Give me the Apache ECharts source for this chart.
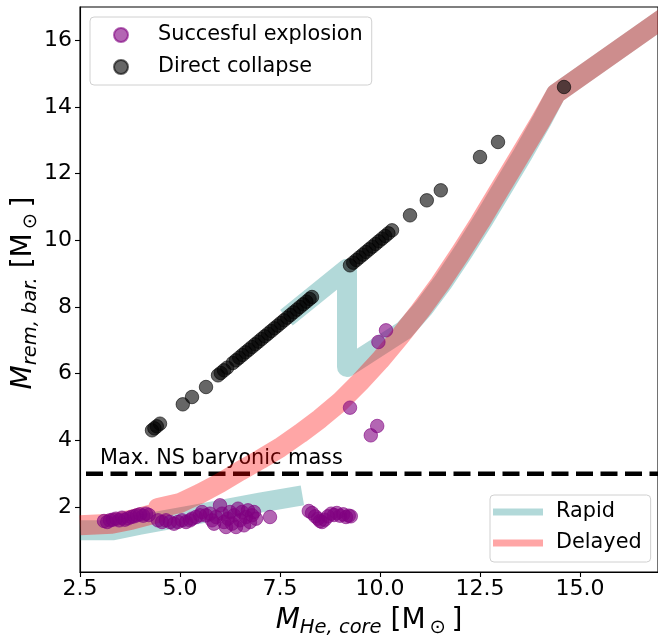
<!DOCTYPE html>
<html>
<head>
<meta charset="utf-8">
<script src="https://cdn.jsdelivr.net/npm/echarts@6/dist/echarts.min.js"></script>
<style>
  html, body { margin: 0; padding: 0; background: #fff; }
  #chart { width: 658px; height: 637px; }
</style>
</head>
<body>
<div id="chart"></div>
<script>
// remnant mass curves, [M_He, M_rem]
const rapidLow = [[2.5, 1.3], [3.3, 1.3], [4.0, 1.47], [5.0, 1.69], [6.0, 1.91], [7.0, 2.13], [8.06, 2.35]];
const rapidHigh = [[7.66, 7.68], [9.175, 9.15], [9.175, 6.2], [10.6, 7.3], [11.08, 7.95], [11.58, 8.75],
  [12.08, 9.65], [12.58, 10.6], [13.08, 11.6], [13.58, 12.6], [14.05, 13.6], [14.4, 14.4], [17.1, 16.68]];
const delayed = [[2.5, 1.45], [3.3, 1.5], [3.8, 1.62], [4.42, 1.82], [4.45, 1.97], [5.0, 2.12], [5.5, 2.4],
  [6.0, 2.72], [6.5, 3.08], [7.0, 3.42], [7.5, 3.78], [8.0, 4.2], [8.5, 4.65], [9.0, 5.15], [9.5, 5.75],
  [10.0, 6.4], [10.5, 7.12], [11.0, 7.88], [11.5, 8.7], [12.0, 9.6], [12.5, 10.55], [13.0, 11.55],
  [13.5, 12.55], [14.0, 13.55], [14.4, 14.4], [17.1, 16.68]];
const nsLimit = [[2.65, 3.0], [17.0, 3.0]];

const explosion = [
  [3.1, 1.58], [3.18, 1.55], [3.25, 1.6], [3.32, 1.62], [3.4, 1.65], [3.48, 1.6], [3.55, 1.68], [3.62, 1.62],
  [3.7, 1.66], [3.78, 1.7], [3.85, 1.72], [3.92, 1.75], [4.0, 1.78], [4.08, 1.74], [4.15, 1.8], [4.22, 1.76],
  [4.45, 1.6], [4.55, 1.55], [4.65, 1.6], [4.75, 1.55], [4.85, 1.5], [4.95, 1.55], [5.05, 1.6], [5.15, 1.55],
  [5.25, 1.6], [5.3, 1.65], [5.4, 1.7], [5.5, 1.75], [5.55, 1.85], [5.65, 1.75], [5.75, 1.8], [5.8, 1.6],
  [5.85, 1.5], [5.9, 1.7], [6.0, 2.05], [6.05, 1.8], [6.1, 1.55], [6.15, 1.4], [6.2, 1.65], [6.25, 1.85],
  [6.3, 1.5], [6.35, 1.75], [6.4, 1.4], [6.45, 1.95], [6.5, 1.6], [6.55, 1.85], [6.6, 1.45], [6.65, 1.7],
  [6.7, 1.9], [6.75, 1.55], [6.8, 1.75], [6.85, 1.85], [6.9, 1.65], [7.25, 1.7],
  [8.22, 1.88], [8.3, 1.82], [8.38, 1.72], [8.45, 1.65], [8.5, 1.58], [8.55, 1.55], [8.62, 1.62], [8.7, 1.72],
  [8.78, 1.8], [8.85, 1.76], [8.92, 1.82], [9.0, 1.74], [9.08, 1.78], [9.15, 1.7], [9.22, 1.74], [9.27, 1.72],
  [9.25, 4.98], [9.77, 4.15], [9.93, 4.43], [9.96, 6.95], [10.15, 7.3]
];

const collapse = [
  [4.3, 4.3], [4.36, 4.36], [4.42, 4.42], [4.5, 4.5],
  [5.07, 5.08], [5.3, 5.3], [5.65, 5.6],
  [5.95, 5.95], [6.02, 6.02], [6.1, 6.1], [6.18, 6.18], [6.32, 6.32],
  [6.4, 6.4], [6.48, 6.48], [6.56, 6.56], [6.64, 6.64], [6.72, 6.72], [6.8, 6.8], [6.88, 6.88], [6.96, 6.96],
  [7.04, 7.04], [7.12, 7.12], [7.2, 7.2], [7.28, 7.28], [7.36, 7.36], [7.44, 7.44], [7.52, 7.52], [7.6, 7.6],
  [7.68, 7.68], [7.76, 7.76], [7.84, 7.84], [7.92, 7.92], [8.0, 8.0], [8.08, 8.08], [8.16, 8.16], [8.24, 8.24],
  [8.3, 8.3],
  [9.25, 9.25], [9.33, 9.33], [9.41, 9.41], [9.49, 9.49], [9.57, 9.57], [9.65, 9.65], [9.73, 9.73], [9.81, 9.81],
  [9.89, 9.89], [9.97, 9.97], [10.05, 10.05], [10.13, 10.13], [10.21, 10.21], [10.3, 10.3],
  [10.75, 10.75], [11.17, 11.2], [11.52, 11.5], [12.5, 12.5], [12.95, 12.95], [14.6, 14.6]
];

const xTicks = [2.5, 5.0, 7.5, 10.0, 12.5, 15.0];
const yTicks = [2, 4, 6, 8, 10, 12, 14, 16];

const FONT = '"DejaVu Sans", sans-serif';
const TEAL = 'rgba(0,128,128,0.3)';
const RED = 'rgba(255,0,0,0.35)';
const PURPLE = 'rgba(128,0,128,0.6)';
const BLACK = 'rgba(0,0,0,0.6)';

const chart = echarts.init(document.getElementById('chart'));

const measureCtx = document.createElement('canvas').getContext('2d');
function pieceFont(p) {
  return (p.italic ? 'italic ' : '') + p.size + 'px ' + FONT;
}

// lay out a mathtext-like label out of pieces, centred on (cx, baseline)
function mathLabel(pieces, cx, baseline, rotation) {
  const widths = pieces.map(p => {
    measureCtx.font = pieceFont(p);
    return measureCtx.measureText(p.text).width;
  });
  const total = widths.reduce((a, b) => a + b, 0);
  let off = -total / 2;
  const children = pieces.map((p, i) => {
    const el = {
      type: 'text',
      x: off,
      y: (p.dy || 0) - 0.3 * p.size,
      style: {
        text: p.text,
        fontSize: p.size,
        fontStyle: p.italic ? 'italic' : 'normal',
        fontFamily: FONT,
        fill: '#000',
        textAlign: 'left',
        textVerticalAlign: 'middle'
      }
    };
    off += widths[i];
    return el;
  });
  return { type: 'group', x: cx, y: baseline, rotation: rotation, children: children };
}

const lineBand = (name, data, color) => ({
  name: name,
  type: 'line',
  z: 2,
  data: data,
  color: color,
  showSymbol: false,
  symbol: 'none',
  clip: false,
  silent: true,
  lineStyle: { color: color, width: 20, cap: 'butt', join: 'round' }
});

const option = {
  animation: false,
  grid: {
    left: 80, right: 0, top: 7, bottom: 65,
    show: true, borderColor: '#000', borderWidth: 1.1,
    containLabel: false, outerBoundsMode: 'none'
  },
  xAxis: {
    type: 'value', min: 2.5, max: 16.95,
    splitLine: { show: false },
    axisLine: { lineStyle: { color: '#000', width: 1.1 } },
    axisTick: { length: 5, customValues: xTicks, lineStyle: { color: '#000', width: 1.1 } },
    axisLabel: { color: '#000', fontSize: 22, fontFamily: FONT, margin: 6, customValues: xTicks,
      formatter: v => v.toFixed(1) }
  },
  yAxis: {
    type: 'value', min: 0.05, max: 17,
    splitLine: { show: false },
    axisLine: { onZero: false, lineStyle: { color: '#000', width: 1.1 } },
    axisTick: { length: 5, customValues: yTicks, lineStyle: { color: '#000', width: 1.1 } },
    axisLabel: { color: '#000', fontSize: 22, fontFamily: FONT, margin: 8, customValues: yTicks }
  },
  legend: [
    {
      data: ['Succesful explosion', 'Direct collapse'],
      icon: 'circle',
      orient: 'vertical',
      left: 90, top: 17,
      itemWidth: 54, itemHeight: 14, itemGap: 10,
      padding: [7, 9, 7, 23],
      backgroundColor: 'rgba(255,255,255,0.8)',
      borderColor: '#d0d0d0', borderWidth: 1, borderRadius: 4,
      selectedMode: false,
      textStyle: { color: '#000', fontSize: 20.8, fontFamily: FONT, lineHeight: 22, padding: [0, 0, 0, 5] }
    },
    {
      data: ['Rapid', 'Delayed'],
      icon: 'rect',
      orient: 'vertical',
      left: 490, top: 495,
      itemWidth: 50, itemHeight: 7, itemGap: 9,
      padding: [6, 9, 8, 3],
      backgroundColor: 'rgba(255,255,255,0.8)',
      borderColor: '#d0d0d0', borderWidth: 1, borderRadius: 4,
      selectedMode: false,
      itemStyle: { borderWidth: 0 },
      textStyle: { color: '#000', fontSize: 20.8, fontFamily: FONT, lineHeight: 22, padding: [0, 0, 0, 8] }
    }
  ],
  series: [
    {
      name: 'NS limit',
      type: 'line',
      z: 1,
      data: nsLimit,
      showSymbol: false,
      symbol: 'none',
      clip: false,
      silent: true,
      lineStyle: { color: '#000', width: 4.5, type: [17, 7.5], cap: 'butt' }
    },
    lineBand('Rapid', rapidLow, TEAL),
    lineBand('Rapid', rapidHigh, TEAL),
    lineBand('Delayed', delayed, RED),
    {
      name: 'Succesful explosion',
      type: 'scatter',
      z: 5,
      data: explosion,
      symbolSize: 13.5,
      itemStyle: { color: PURPLE, borderColor: PURPLE, borderWidth: 1, opacity: 1 }
    },
    {
      name: 'Direct collapse',
      type: 'scatter',
      z: 5,
      data: collapse,
      symbolSize: 13.5,
      itemStyle: { color: BLACK, borderColor: BLACK, borderWidth: 1, opacity: 1 }
    }
  ]
};

chart.setOption(option);

const nsText = chart.convertToPixel({ gridIndex: 0 }, [3.0, 3.0]);
chart.setOption({
  graphic: [
    {
      type: 'text',
      x: nsText[0],
      y: nsText[1] - 9 - 0.3 * 20.8,
      z: 0,
      style: {
        text: 'Max. NS baryonic mass',
        fontSize: 20.8, fontFamily: FONT, fill: '#000',
        textAlign: 'left', textVerticalAlign: 'middle'
      }
    },
    mathLabel([
      { text: 'M', size: 28, italic: true },
      { text: 'He, core', size: 19.5, italic: true, dy: 5 },
      { text: ' [M', size: 28 },
      { text: '\u2009\u2299', size: 19.5, dy: 5 },
      { text: '\u2009]', size: 28 }
    ], 369, 629, 0),
    mathLabel([
      { text: 'M', size: 28, italic: true },
      { text: 'rem, bar.', size: 19.5, italic: true, dy: 5 },
      { text: ' [M', size: 28 },
      { text: '\u2009\u2299', size: 19.5, dy: 5 },
      { text: '\u2009]', size: 28 }
    ], 32, 293, Math.PI / 2)
  ]
});
</script>
</body>
</html>
